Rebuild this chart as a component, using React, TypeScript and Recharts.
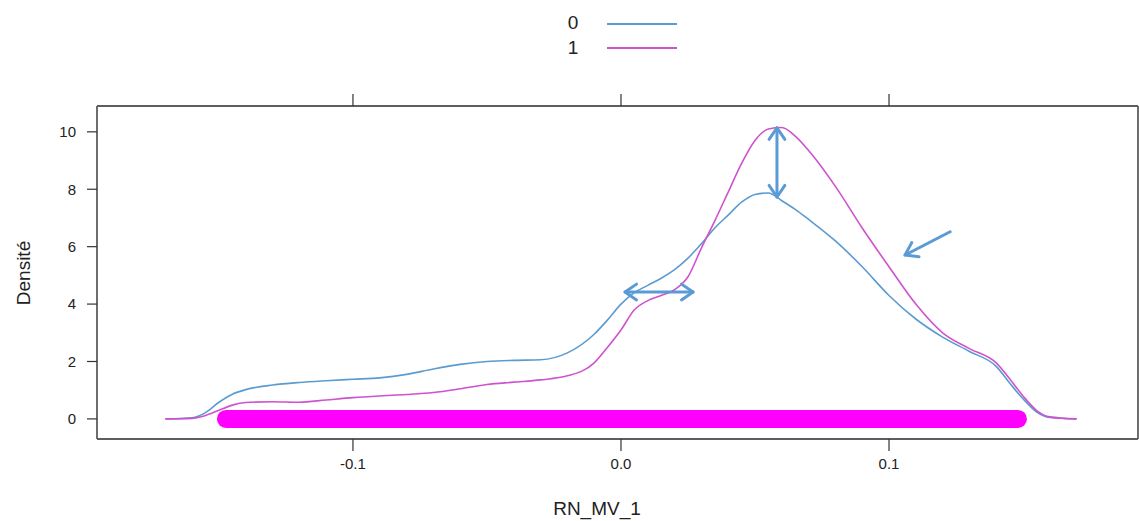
import React from 'react';
import { LineChart, Line, XAxis, YAxis, ReferenceLine } from 'recharts';

// density estimate, sampled on a shared x grid
const xGrid = [
  -0.17, -0.16, -0.155, -0.15, -0.145, -0.14, -0.13, -0.12, -0.11, -0.1, -0.09, -0.08, -0.07, -0.06,
  -0.05, -0.04, -0.03, -0.02, -0.01, -0.005, 0, 0.005, 0.01, 0.015, 0.02, 0.025, 0.03, 0.035, 0.04,
  0.045, 0.05, 0.055, 0.06, 0.065, 0.07, 0.08, 0.09, 0.1, 0.11, 0.12, 0.13, 0.14, 0.145, 0.15, 0.155,
  0.16, 0.17,
];
const dens0 = [
  0, 0.04, 0.22, 0.58, 0.86, 1.02, 1.18, 1.27, 1.33, 1.38, 1.43, 1.55, 1.74, 1.9,
  2.0, 2.04, 2.06, 2.3, 2.95, 3.45, 4.0, 4.4, 4.65, 4.9, 5.2, 5.6, 6.1, 6.65, 7.1,
  7.55, 7.82, 7.87, 7.6, 7.3, 6.95, 6.2, 5.3, 4.3, 3.48, 2.85, 2.35, 1.83, 1.25, 0.7, 0.25,
  0.05, 0,
];
const dens1 = [
  0, 0.02, 0.12, 0.3, 0.48, 0.57, 0.6, 0.58, 0.66, 0.74, 0.8, 0.85, 0.92, 1.05,
  1.2, 1.28, 1.36, 1.5, 1.95, 2.5, 3.1, 3.8, 4.12, 4.3, 4.5, 4.95, 5.95, 6.9, 7.9,
  8.9, 9.7, 10.1, 10.15, 9.85, 9.35, 8.1, 6.65, 5.3, 4.0, 3.0, 2.45, 1.95, 1.4, 0.8, 0.3,
  0.07, 0,
];
// rug extent (observations of group 1)
const rugX = [-0.1474, 0.1481];

const xTicks = [-0.1, 0, 0.1];
const yTicks = [0, 2, 4, 6, 8, 10];
const xDomain = [-0.1955, 0.1929];
const yDomain = [-0.7, 10.9];

// hand-drawn annotations: [x1, y1, x2, y2, doubleHeaded]
const arrows: [number, number, number, number, boolean][] = [
  [0.0582, 10.14, 0.0582, 7.73, true],
  [0.0015, 4.42, 0.0269, 4.42, true],
  [0.1228, 6.52, 0.106, 5.71, false],
];

const series = [
  { key: '0', values: dens0, color: '#5b9bd0' },
  { key: '1', values: dens1, color: '#cf52cf' },
];

const BLUE_ARROW = '#5b9bd5';
const FONT = '"Liberation Sans", Arial, sans-serif';

const head = (tx: number, ty: number, fx: number, fy: number) => {
  const a = Math.atan2(ty - fy, tx - fx);
  const len = 14;
  const spread = 0.6;
  const p1 = [tx - len * Math.cos(a - spread), ty - len * Math.sin(a - spread)];
  const p2 = [tx - len * Math.cos(a + spread), ty - len * Math.sin(a + spread)];
  return `M${p1[0]},${p1[1]} L${tx},${ty} L${p2[0]},${p2[1]}`;
};

const arrowShape = (both: boolean) => (props: any) => {
  const { x1, y1, x2, y2 } = props;
  if (x1 == null) return <g />;
  return (
    <g fill="none" stroke={BLUE_ARROW} strokeWidth={3} strokeLinecap="round" strokeLinejoin="round">
      <line x1={x1} y1={y1} x2={x2} y2={y2} />
      <path d={head(x2, y2, x1, y1)} />
      {both && <path d={head(x1, y1, x2, y2)} />}
    </g>
  );
};

// key drawn above the panel, like lattice's auto.key
const KeyBox = () => (
  <svg width={1139} height={70} style={{ position: 'absolute', left: 0, top: 0 }}>
    {series.map((s, i) => (
      <g key={s.key}>
        <text x={573} y={22 + i * 25} textAnchor="middle" dominantBaseline="central"
          fontSize={19} fontFamily={FONT} fill="#222">
          {s.key}
        </text>
        <line x1={607} y1={24 + i * 24} x2={677} y2={24 + i * 24} stroke={s.color} strokeWidth={2} />
      </g>
    ))}
  </svg>
);

export default function App() {
  const rows = xGrid.map((x, i) => ({ x, d0: dens0[i], d1: dens1[i] }));
  const rug = rugX.map(x => ({ x, y: 0 }));
  const axisLine = { stroke: '#5e5e5e', strokeWidth: 1.8 };
  const tickLine = { stroke: '#333', strokeWidth: 1.2 };
  const tick = { fill: '#222', fontSize: 15, fontFamily: FONT };

  return (
    <div style={{ position: 'absolute', left: 0, top: 0, width: 1139, height: 521, background: '#fff' }}>
      <LineChart width={1139} height={521} margin={{ top: 93, right: 0, left: 37, bottom: 32 }}>
        <XAxis
          xAxisId={0}
          dataKey="x"
          type="number"
          domain={xDomain}
          ticks={xTicks}
          allowDataOverflow
          height={50}
          axisLine={axisLine}
          tickLine={tickLine}
          tickSize={12}
          tickMargin={7}
          tick={tick}
          tickFormatter={(v: number) => (v === 0 ? '0.0' : v.toFixed(1))}
          label={{
            content: () => (
              <text x={597} y={515} textAnchor="middle" fontSize={19} fontFamily={FONT} fill="#222">
                RN_MV_1
              </text>
            ),
          }}
        />
        <XAxis
          xAxisId="top"
          orientation="top"
          dataKey="x"
          type="number"
          domain={xDomain}
          ticks={xTicks}
          allowDataOverflow
          height={13}
          axisLine={axisLine}
          tickLine={tickLine}
          tickSize={12}
          tick={tick}
          tickFormatter={() => ''}
        />
        <YAxis
          yAxisId={0}
          type="number"
          domain={yDomain}
          ticks={yTicks}
          allowDataOverflow
          width={60}
          axisLine={axisLine}
          tickLine={tickLine}
          tickSize={10}
          tickMargin={11}
          tick={tick}
          label={{
            content: (p: any) => {
              const cx = (p.viewBox?.x ?? 37) - 14;
              const cy = 273;
              return (
                <text x={cx} y={cy} textAnchor="middle" fontSize={19} fontFamily={FONT} fill="#222"
                  transform={`rotate(-90 ${cx} ${cy})`} dominantBaseline="central">
                  Densité
                </text>
              );
            },
          }}
        />
        <YAxis
          yAxisId="right"
          orientation="right"
          type="number"
          domain={yDomain}
          allowDataOverflow
          width={1}
          axisLine={axisLine}
          tick={false}
          tickLine={false}
        />
        <Line
          data={rug}
          dataKey="y"
          stroke="#ff00ff"
          strokeWidth={18}
          strokeLinecap="round"
          dot={false}
          activeDot={false}
          legendType="none"
          isAnimationActive={false}
        />
        <Line
          data={rows}
          dataKey="d0"
          name="0"
          type="monotone"
          stroke={series[0].color}
          strokeWidth={1.6}
          dot={false}
          activeDot={false}
          isAnimationActive={false}
        />
        <Line
          data={rows}
          dataKey="d1"
          name="1"
          type="monotone"
          stroke={series[1].color}
          strokeWidth={1.6}
          dot={false}
          activeDot={false}
          isAnimationActive={false}
        />
        {arrows.map(([ax1, ay1, ax2, ay2, both], i) => (
          <ReferenceLine
            key={i}
            segment={[{ x: ax1, y: ay1 }, { x: ax2, y: ay2 }]}
            shape={arrowShape(both)}
          />
        ))}
      </LineChart>
      <KeyBox />
    </div>
  );
}
